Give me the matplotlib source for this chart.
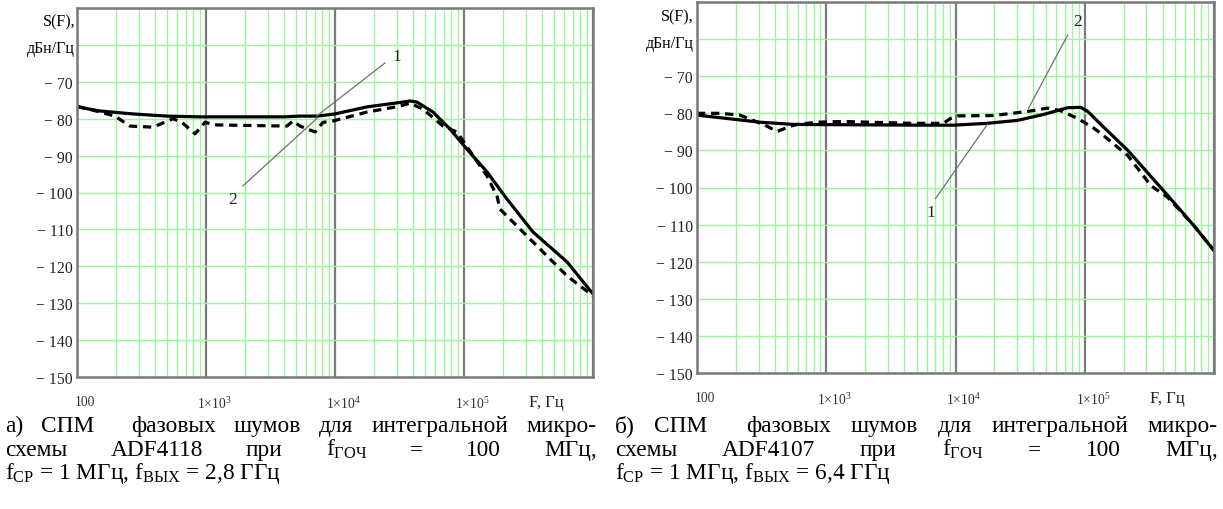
import matplotlib
matplotlib.use('Agg')
import matplotlib.pyplot as plt
from matplotlib.ticker import FixedLocator, FixedFormatter, LogLocator, NullFormatter
from matplotlib.transforms import ScaledTranslation


plt.rcParams['font.family'] = ['Liberation Serif', 'DejaVu Serif']
plt.rcParams['mathtext.fontset'] = 'custom'
plt.rcParams['mathtext.rm'] = 'Liberation Serif'

W, H = 1223, 510

# а) ADF4118, curve 1 (solid) and curve 2 (dashed)
a_f1 = [100, 150, 270, 500, 900, 4000, 5300, 7300, 10000, 17700, 31900,
        38100, 43200, 57500, 77900, 105000, 150700, 215500, 342500, 628600, 1e6]
a_s1 = [-76.8, -77.9, -78.7, -79.3, -79.5, -79.5, -79.3, -79.3, -78.7, -76.8, -75.6,
        -75.2, -75.5, -78.2, -82.8, -88.2, -94.4, -101.8, -110.7, -118.8, -127.5]
a_f2 = [100, 151, 197, 257, 388, 555, 651, 822, 982, 1220, 4240, 4730, 5350,
        7000, 8070, 9700, 17700, 31900, 38100, 48100, 68700, 88300, 111300,
        150700, 180300, 190100, 342500, 628600, 1e6]
a_s2 = [-76.6, -78.2, -79.3, -82.0, -82.3, -80.0, -81.0, -84.1, -81.0, -81.7, -82.0, -80.6, -82.0,
        -83.6, -81.0, -80.6, -78.2, -76.6, -75.8, -77.4, -82.0, -83.6, -88.8,
        -95.5, -101.0, -104.5, -113.4, -122.6, -128.0]

# б) ADF4107
b_f1 = [100, 171, 308, 555, 5350, 9640, 17700, 30300, 48100, 73800, 93100,
        105500, 133100, 215400, 440000, 700000, 1e6]
b_s1 = [-80.5, -81.4, -82.4, -83.0, -83.2, -83.2, -82.7, -81.9, -80.3, -78.5, -78.4,
        -79.5, -83.0, -90.0, -102.2, -110.3, -117.0]
b_f2 = [100, 151, 215, 272, 349, 417, 526, 596, 851, 1355, 4480, 8070, 9140,
        10370, 19700, 36100, 51600, 65100, 88300, 117400, 133100, 215400, 324800,
        440000, 700000, 1e6]
b_s2 = [-80.0, -80.0, -80.5, -81.9, -83.5, -84.9, -83.5, -83.0, -82.4, -82.2, -82.7, -82.7, -81.4,
        -80.7, -80.6, -79.5, -78.6, -79.3, -81.4, -84.0, -85.4, -91.4, -99.5,
        -102.7, -110.3, -117.0]

# leader lines: (text position, line start, line end) per curve number
a_marks = {'1': [(30300, -63.0), (24400, -64.9), (7200, -79.3)],
           '2': [(1620, -101.8), (1935, -98.2), (7200, -80.0)]}
b_marks = {'2': [(88300, -55.1), (73800, -58.9), (36800, -78.6)],
           '1': [(6400, -106.5), (7000, -103.0), (17700, -82.9)]}

x_ticks = [100, 1e3, 1e4, 1e5, 1e6]
x_labels = ['100', r'$\mathregular{1{\times}10^{3}}$', r'$\mathregular{1{\times}10^{4}}$',
            r'$\mathregular{1{\times}10^{5}}$', '']
y_ticks = list(range(-150, -40, 10))
y_labels = ['\u2212 %d' % -v if v <= -70 else '' for v in y_ticks]

GREEN = '#9cf59c'
GRAY = '#7a7a7a'


def panel(fig, ax, f1, s1, f2, s2, marks):
  ax.set_xscale('log')
  ax.set_xlim(100, 1e6)
  ax.set_ylim(-150, -50)
  ax.xaxis.set_major_locator(FixedLocator(x_ticks))
  ax.xaxis.set_major_formatter(FixedFormatter(x_labels))
  ax.xaxis.set_minor_locator(LogLocator(base=10, subs=range(2, 10)))
  ax.xaxis.set_minor_formatter(NullFormatter())
  ax.yaxis.set_major_locator(FixedLocator(y_ticks))
  ax.yaxis.set_major_formatter(FixedFormatter(y_labels))
  ax.tick_params(which='both', length=0)
  ax.tick_params(axis='x', pad=13, labelsize=9.8, labelcolor='#333')
  ax.tick_params(axis='y', pad=3, labelsize=11.3, labelcolor='#222')
  # Mathcad puts the x labels a little to the right of the decade lines
  shift = ScaledTranslation(6 / 72, 0, fig.dpi_scale_trans)
  for lab in ax.get_xticklabels():
    lab.set_transform(lab.get_transform() + shift)
  ax.grid(True, axis='y', color=GREEN, lw=1.0)
  ax.grid(True, axis='x', which='minor', color=GREEN, lw=1.0)
  ax.grid(True, axis='x', which='major', color=GRAY, lw=1.6)
  ax.set_axisbelow(True)
  for sp in ax.spines.values():
    sp.set_color(GRAY)
    sp.set_linewidth(1.8)
  ax.plot(f1, s1, color='black', lw=2.3, solid_capstyle='round')
  ax.plot(f2, s2, color='black', lw=2.3, ls=(0, (2.6, 1.8)))
  for name, (tp, p0, p1) in marks.items():
    ax.plot([p0[0], p1[0]], [p0[1], p1[1]], color='#707070', lw=0.9)
    ax.text(tp[0], tp[1], name, fontsize=12.5, ha='center', va='center', color='#222')
  ax.text(0.91, -0.068, 'F, Гц', transform=ax.transAxes, fontsize=12,
          ha='center', va='center', color='#222')


def fx(x):
  return x / W


def fy(y):
  return 1 - y / H


def justify(fig, words, x0, x1, y, size):
  r = fig.canvas.get_renderer()
  texts = [fig.text(0, fy(y), w, fontsize=size, va='baseline') for w in words]
  widths = [t.get_window_extent(r).width for t in texts]
  gap = (x1 - x0 - sum(widths)) / (len(words) - 1)
  x = x0
  for t, w in zip(texts, widths):
    t.set_x(fx(x))
    x += w + gap


fig = plt.figure(figsize=(W / 100, H / 100), dpi=100)
ax_a = fig.add_axes([fx(77), fy(378), fx(593 - 77), (378 - 9) / H])
ax_b = fig.add_axes([fx(697), fy(374), fx(1214 - 697), (374 - 3) / H])
panel(fig, ax_a, a_f1, a_s1, a_f2, a_s2, a_marks)
panel(fig, ax_b, b_f1, b_s1, b_f2, b_s2, b_marks)

for x, top in [(75, 22), (694, 17)]:
  fig.text(fx(x), fy(top), 'S(F),', fontsize=11.5, ha='right', va='center')
  fig.text(fx(x), fy(top + 27), 'дБн/Гц', fontsize=11.5, ha='right', va='center')

CAP = 16.8
line1 = ['СПМ', '', 'фазовых', 'шумов', 'для', 'интегральной', 'микро-']
justify(fig, ['а)'] + line1, 5, 597, 432, CAP)
justify(fig, ['схемы', 'ADF4118', 'при', r'$\mathregular{f_{ГОЧ}}$', '=', '100', 'МГц,'],
        5, 597, 456, CAP)
fig.text(fx(5), fy(479), r'$\mathregular{f_{CP}}$ = 1 МГц, $\mathregular{f_{ВЫХ}}$ = 2,8 ГГц',
         fontsize=CAP, va='baseline')

justify(fig, ['б)'] + line1, 615, 1218, 432, CAP)
justify(fig, ['схемы', 'ADF4107', 'при', r'$\mathregular{f_{ГОЧ}}$', '=', '100', 'МГц,'],
        615, 1218, 456, CAP)
fig.text(fx(615), fy(479), r'$\mathregular{f_{CP}}$ = 1 МГц, $\mathregular{f_{ВЫХ}}$ = 6,4 ГГц',
         fontsize=CAP, va='baseline')

fig.savefig('out.png', dpi=100)
